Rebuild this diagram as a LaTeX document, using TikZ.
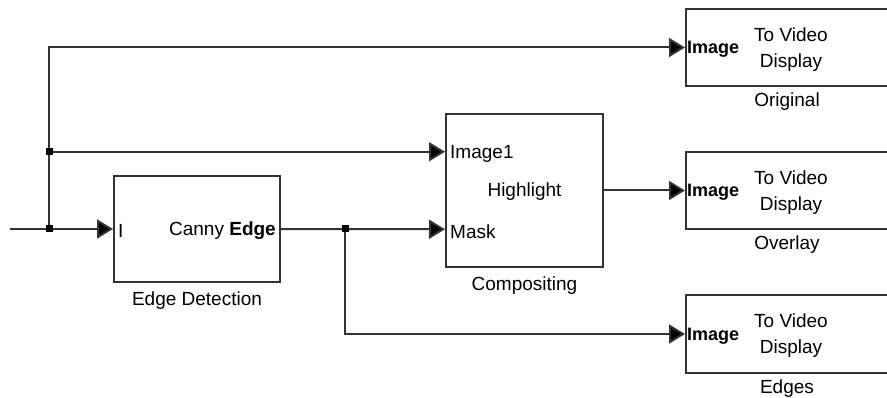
\documentclass[tikz,border=0pt]{standalone}
\usepackage{fontspec}
\setmainfont{Liberation Sans}
\usetikzlibrary{arrows.meta, positioning, calc}

\begin{document}
\begin{tikzpicture}[
    x=1pt, y=-1pt,
    font=\fontsize{19}{26}\selectfont,
    block/.style={rectangle, draw=black!80, line width=2pt, inner sep=0},
    display/.style={block, minimum width=202pt, minimum height=77pt},
    wire/.style={draw=black!80, line width=2pt},
    signal/.style={wire, -{Triangle[length=16pt, width=19pt, fill=black]}},
    junction/.style={rectangle, fill=black, inner sep=0, minimum size=7pt},
    port text/.style={inner xsep=5pt, inner ysep=0pt, anchor=west, yshift=-2pt},
    label text/.style={inner sep=0pt}
]
    \clip (0,0) rectangle (887,398);

    % =========================================================
    % BLOCKS
    % =========================================================
    \node[block, minimum width=166pt, minimum height=106pt] (edge) at (197,229) {};
    \node[block, minimum width=157pt, minimum height=153pt] (comp) at (524.5,190.5) {};

    \node[port text] at (edge.west) {I};
    \node[port text, anchor=east] at (edge.east) {Canny \textbf{Edge}};
    \node[label text, below=9pt of edge] {Edge Detection};

    \coordinate (compIn1) at ($(comp.north west)!0.25!(comp.south west)$);
    \coordinate (compIn2) at ($(comp.north west)!0.75!(comp.south west)$);
    \node[port text] at (compIn1) {Image1};
    \node[port text] at (compIn2) {Mask};
    \node at ([yshift=-1pt]comp.center) {Highlight};
    \node[label text, below=9pt of comp] {Compositing};

    % Video displays
    \foreach \name/\ypos/\cap in {orig/47.5/Original, overlay/190.5/Overlay, edges/334/Edges} {
        \node[display] (\name) at (787,\ypos) {};
        \node[port text, inner xsep=2pt, font=\fontsize{18}{26}\selectfont\bfseries] at (\name.west) {Image};
        \node[align=center] at ([xshift=4pt, yshift=-2pt]\name.center) {To Video\\Display};
        \node[label text, below=6pt of \name] {\cap};
    }

    % =========================================================
    % SIGNALS
    % =========================================================
    \coordinate (in) at (10,229);
    \coordinate (j1) at (49,229);
    \coordinate (j2) at (j1 |- compIn1);
    \coordinate (j3) at (345,229);

    \draw[signal] (in) -- (edge.west);
    \draw[signal] (j1) -- (j1 |- orig.west) -- (orig.west);
    \draw[signal] (j2) -- (compIn1);
    \draw[signal] (edge.east) -- (compIn2);
    \draw[signal] (comp.east) -- (overlay.west);
    \draw[signal] (j3) -- (j3 |- edges.west) -- (edges.west);

    \foreach \j in {j1, j2, j3} {
        \node[junction] at (\j) {};
    }

\end{tikzpicture}
\end{document}
